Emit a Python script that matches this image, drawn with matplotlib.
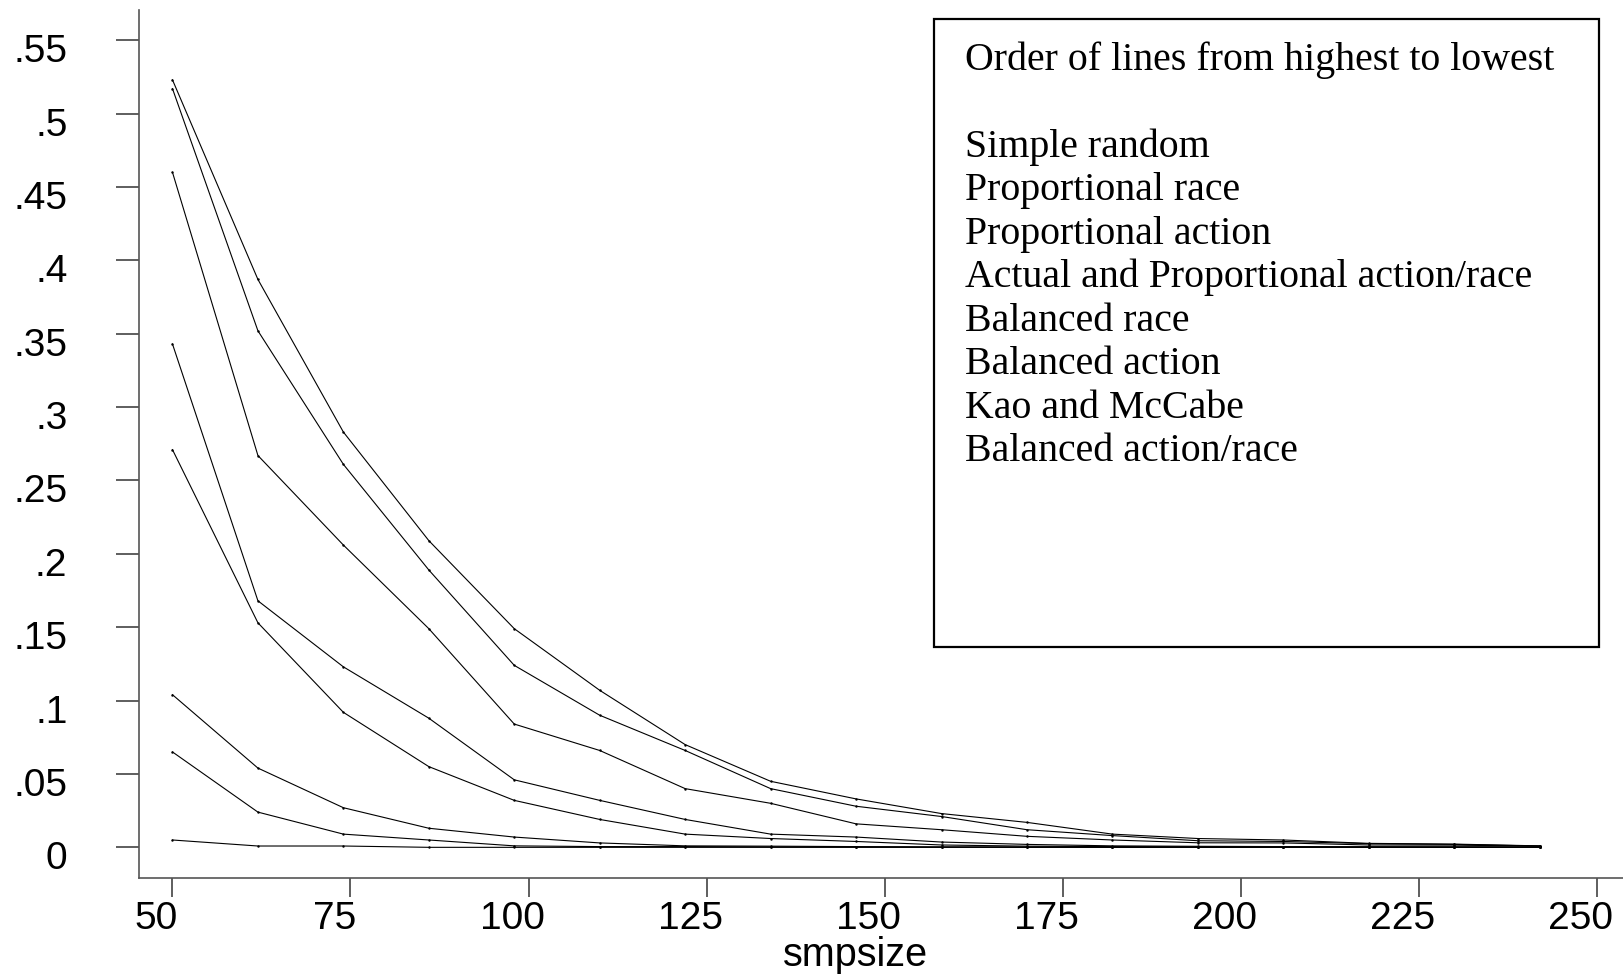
import numpy as np
import matplotlib
matplotlib.use("Agg")
import matplotlib.pyplot as plt
import matplotlib.transforms as mtransforms
from matplotlib.patches import Rectangle

# sample sizes on the x axis
smpsize = [50, 62, 74, 86, 98, 110, 122, 134, 146, 158, 170, 182, 194, 206, 218, 230, 242]

# one series per design (highest to lowest)
simple_random = [0.523, 0.387, 0.283, 0.209, 0.149, 0.107, 0.070, 0.045, 0.033, 0.023,
                 0.017, 0.009, 0.006, 0.005, 0.0027, 0.0022, 0.001]
prop_race = [0.517, 0.352, 0.261, 0.189, 0.124, 0.090, 0.066, 0.040, 0.028, 0.021,
             0.012, 0.008, 0.0045, 0.004, 0.0025, 0.002, 0.0009]
prop_action = [0.460, 0.267, 0.206, 0.149, 0.084, 0.066, 0.040, 0.030, 0.016, 0.012,
               0.0075, 0.005, 0.0031, 0.003, 0.0016, 0.0015, 0.0008]
actual_prop = [0.343, 0.168, 0.123, 0.088, 0.046, 0.032, 0.019, 0.009, 0.007, 0.0036,
               0.002, 0.001, 0.0007, 0.0005, 0.0004, 0.0003, 0.0002]
balanced_race = [0.271, 0.153, 0.092, 0.055, 0.032, 0.019, 0.009, 0.006, 0.004, 0.0016,
                 0.0008, 0.0005, 0.0003, 0.0002, 0.0001, 0.0001, 0.0001]
balanced_action = [0.104, 0.054, 0.027, 0.013, 0.007, 0.003, 0.001, 0.0008, 0.0005, 0.0003,
                   0.0002, 0.0001, 0.0001, 0.0, 0.0, 0.0, 0.0]
kao_mccabe = [0.065, 0.024, 0.009, 0.005, 0.001, 0.0005, 0.0005, 0.0003, 0.0002, 0.0001,
              0.0001, 0.0, 0.0, 0.0, 0.0, 0.0, 0.0]
balanced_both = [0.005, 0.0009, 0.0009, 0.0, 0.0, 0.0, 0.0, 0.0, 0.0, 0.0,
                 0.0, 0.0, 0.0, 0.0, 0.0, 0.0, 0.0]

series = [simple_random, prop_race, prop_action, actual_prop,
          balanced_race, balanced_action, kao_mccabe, balanced_both]

legend_title = "Order of lines from highest to lowest"
legend_lines = ["Simple random", "Proportional race", "Proportional action",
                "Actual and Proportional action/race", "Balanced race",
                "Balanced action", "Kao and McCabe", "Balanced action/race"]

xticks = [50, 75, 100, 125, 150, 175, 200, 225, 250]
yticks = [0, 0.05, 0.1, 0.15, 0.2, 0.25, 0.3, 0.35, 0.4, 0.45, 0.5, 0.55]
ytick_labels = ["0", ".05", ".1", ".15", ".2", ".25", ".3", ".35", ".4", ".45", ".5", ".55"]

W, H = 1623, 977
fig = plt.figure(figsize=(W / 100, H / 100), dpi=100)
ax = fig.add_axes([139 / W, 1 - 878 / H, 1 - 139 / W, (878 - 10) / H])

for s in series:
    ax.plot(smpsize, s, color="black", lw=0.8, marker=".", markersize=1.5)

ax.set_xlim(45.3, 253.7)
ax.set_ylim(-0.0209, 0.5706)

for side in ["top", "right"]:
    ax.spines[side].set_visible(False)
for side in ["left", "bottom"]:
    ax.spines[side].set_color("#555555")
    ax.spines[side].set_linewidth(1.2)

ax.set_xticks(xticks)
ax.set_yticks(yticks)
ax.set_yticklabels(ytick_labels)
ax.tick_params(axis="y", direction="out", length=16.5, width=1.1, color="#333333",
               pad=35, labelsize=28)
ax.tick_params(axis="x", direction="out", length=13.7, width=1.1, color="#333333",
               pad=3, labelsize=28)

# the original's tick labels sit a little left of / below their ticks
dx = mtransforms.ScaledTranslation(-0.16, 0, fig.dpi_scale_trans)
dy = mtransforms.ScaledTranslation(0, -0.08, fig.dpi_scale_trans)
for lab in ax.get_xticklabels():
    lab.set_fontfamily("Liberation Sans")
    lab.set_transform(lab.get_transform() + dx)
for lab in ax.get_yticklabels():
    lab.set_fontfamily("Liberation Sans")
    lab.set_transform(lab.get_transform() + dy)

ax.set_xlabel("smpsize", fontsize=28.5, family="Liberation Sans")
ax.xaxis.set_label_coords((856 - 139) / (W - 139), (878 - 936) / 868)

# boxed note in the upper right
fig.patches.append(Rectangle((934 / W, 1 - 647 / H), (1599 - 934) / W, (647 - 19) / H,
                             transform=fig.transFigure, fill=False,
                             edgecolor="black", lw=1.6))
texts = [legend_title, ""] + legend_lines
for k, t in enumerate(texts):
    if t:
        fig.text(965 / W, 1 - (69.6 + 43.5 * k) / H, t, fontsize=28.7,
                 family="Liberation Serif", va="baseline", ha="left")

fig.savefig("out.png", dpi=100, facecolor="white")
